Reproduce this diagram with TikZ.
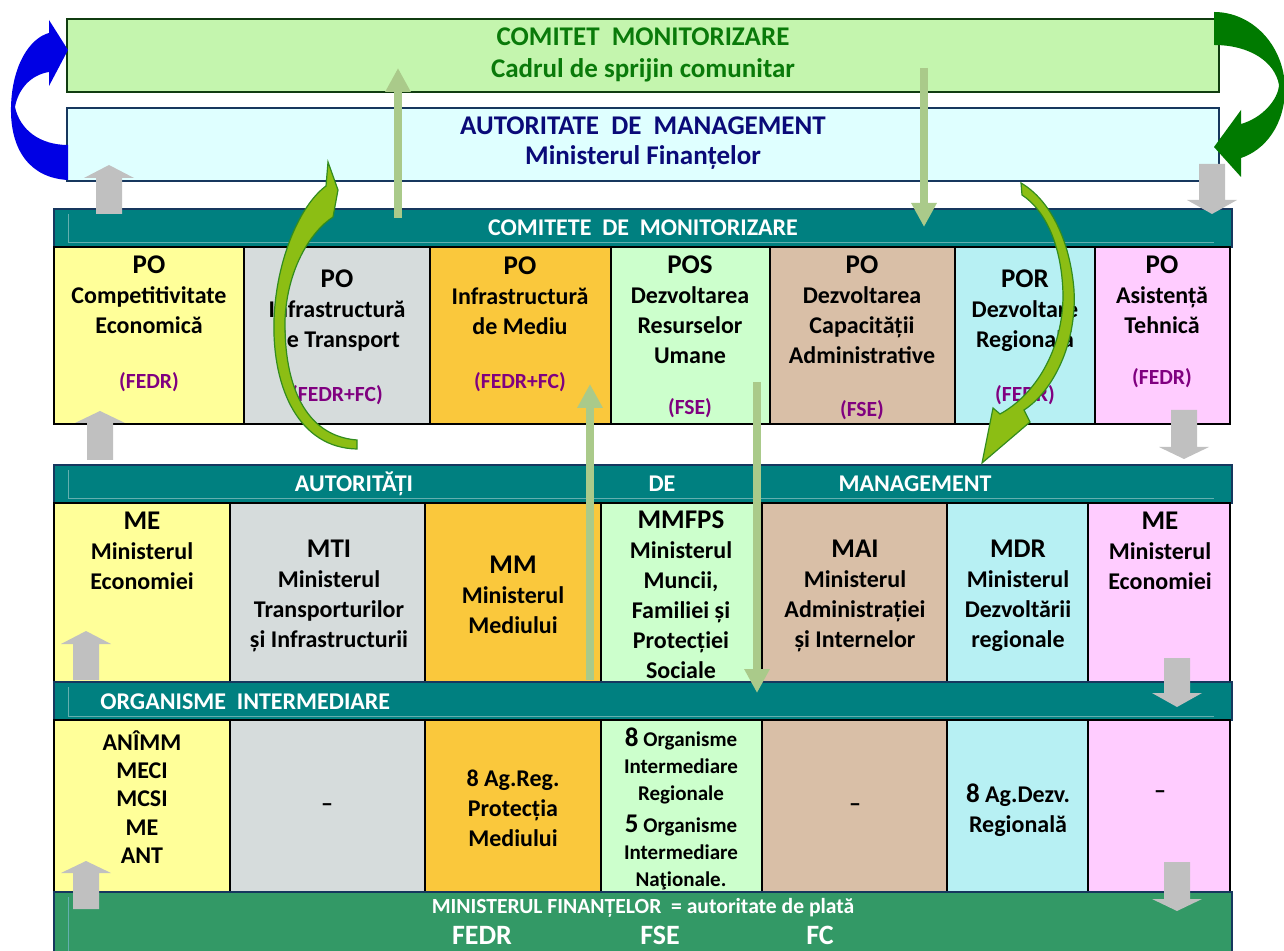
\documentclass[tikz,border=0pt]{standalone}
\usepackage{amsmath}
\usepackage{xcolor}
\usepackage{fontspec}
\setmainfont{Carlito}
\usepackage{tikz}
\usetikzlibrary{arrows.meta}

\definecolor{cmgreen}{RGB}{196,245,174}
\definecolor{cmline}{RGB}{16,60,16}
\definecolor{cmtext}{RGB}{10,122,10}
\definecolor{amcyan}{RGB}{223,255,255}
\definecolor{amline}{RGB}{22,55,94}
\definecolor{amtext}{RGB}{10,10,120}
\definecolor{barteal}{RGB}{0,128,128}
\definecolor{barlight}{RGB}{100,175,175}
\definecolor{payteal}{RGB}{51,153,102}
\definecolor{cyel}{RGB}{255,255,153}
\definecolor{cgray}{RGB}{214,220,220}
\definecolor{corange}{RGB}{250,200,60}
\definecolor{cgreen}{RGB}{204,255,204}
\definecolor{ctan}{RGB}{217,191,167}
\definecolor{ccyan}{RGB}{183,240,243}
\definecolor{cpink}{RGB}{255,204,255}
\definecolor{fpurple}{RGB}{128,0,128}
\definecolor{blkgray}{RGB}{192,192,192}
\definecolor{lnkgreen}{RGB}{170,202,138}
\definecolor{bendfill}{RGB}{140,190,20}
\definecolor{bendline}{RGB}{50,140,30}
\definecolor{loopblue}{RGB}{0,0,228}
\definecolor{loopgreen}{RGB}{0,122,0}

\newcommand{\celltitle}[1]{{\fontsize{13.5}{15}\selectfont #1}}
\newcommand{\bignum}[1]{{\fontsize{13.5}{13.5}\selectfont #1}}

\begin{document}
\begin{tikzpicture}[x=0.5pt,y=-0.5pt,
  cell/.style={draw=black,line width=1.2pt},
  bar/.style={fill=barteal,draw=amline,line width=1pt},
  barin/.style={draw=barlight,line width=0.5pt},
  txt/.style={font=\fontsize{12}{15}\selectfont\bfseries,align=center,inner sep=0pt},
  smalltxt/.style={font=\fontsize{10.5}{13.5}\selectfont\bfseries,align=center,inner sep=0pt},
  fund/.style={text=fpurple,font=\fontsize{10.8}{12}\selectfont\bfseries,inner sep=0pt},
  bartxt/.style={text=white,font=\fontsize{12}{14}\selectfont\bfseries,inner sep=0pt},
  headtxt/.style={font=\fontsize{13.5}{16}\selectfont\bfseries,inner sep=0pt},
  grayarr/.style={fill=blkgray},
  linkarr/.style={draw=lnkgreen,line width=4pt,-{Triangle[width=12pt,length=12pt]}},
  bendarr/.style={fill=bendfill,draw=bendline,line width=0.6pt}]

\useasboundingbox (0,0) rectangle (1284,951);

% top boxes
\draw[fill=cmgreen,draw=cmline,line width=1pt] (67,19) rectangle (1219,92);
\node[headtxt,text=cmtext] (cm1) at (643,37) {COMITET~~MONITORIZARE};
\node[headtxt,text=cmtext] (cm2) at (643,70) {Cadrul de sprijin comunitar};

\draw[fill=amcyan,draw=amline,line width=1pt] (67,108) rectangle (1219,181);
\node[headtxt,text=amtext] (am1) at (643,126) {AUTORITATE~~DE~~MANAGEMENT};
\node[headtxt,text=amtext] (am2) at (643,158) {Ministerul Finanțelor};

%%% comitete de monitorizare
\draw[bar] (54,209) rectangle (1232,247);
\draw[barin] (68,214) -- (68,243) -- (1214,243);
\node[bartxt] (cdm) at (643,228) {COMITETE~~DE~~MONITORIZARE};

\draw[cell,fill=cyel] (54,247) rectangle (244,424);
\draw[cell,fill=cgray] (244,247) rectangle (430,424);
\draw[cell,fill=corange] (430,247) rectangle (611,424);
\draw[cell,fill=cgreen] (611,247) rectangle (770,424);
\draw[cell,fill=ctan] (770,247) rectangle (955,424);
\draw[cell,fill=ccyan] (955,247) rectangle (1095,424);
\draw[cell,fill=cpink] (1095,247) rectangle (1230,424);

\node[txt] (po1) at (149,295) {\celltitle{PO}\\Competitivitate\\Economică};
\node[txt] (po2) at (337,311) {\celltitle{PO}\\Infrastructură\\de Transport};
\node[txt] (po3) at (520,296) {\celltitle{PO}\\Infrastructură\\de Mediu};
\node[txt] (po4) at (690,310) {\celltitle{POS}\\Dezvoltarea\\Resurselor\\Umane};
\node[txt] (po5) at (862,310) {\celltitle{PO}\\Dezvoltarea\\Capacității\\Administrative};
\node[txt] (po6) at (1025,311) {\celltitle{POR}\\Dezvoltare\\Regională};
\node[txt] (po7) at (1162,295) {\celltitle{PO}\\Asistență\\Tehnică};

\node[fund] (f1) at (149,382) {(FEDR)};
\node[fund] (f2) at (337,395) {(FEDR+FC)};
\node[fund] (f3) at (520,382) {(FEDR+FC)};
\node[fund] (f4) at (690,408) {(FSE)};
\node[fund] (f5) at (862,410) {(FSE)};
\node[fund] (f6) at (1025,395) {(FEDR)};
\node[fund] (f7) at (1162,378) {(FEDR)};

%%% autoritati de management
\draw[bar] (54,465) rectangle (1232,503);
\draw[barin] (68,470) -- (68,499) -- (1214,499);
\node[bartxt] (adm1) at (354,484) {AUTORITĂȚI};
\node[bartxt] (adm2) at (662,484) {DE};
\node[bartxt] (adm3) at (915,484) {MANAGEMENT};

\draw[cell,fill=cyel] (54,503) rectangle (230,682);
\draw[cell,fill=cgray] (230,503) rectangle (425,682);
\draw[cell,fill=corange] (425,503) rectangle (601,682);
\draw[cell,fill=cgreen] (601,503) rectangle (762,682);
\draw[cell,fill=ctan] (762,503) rectangle (947,682);
\draw[cell,fill=ccyan] (947,503) rectangle (1088,682);
\draw[cell,fill=cpink] (1088,503) rectangle (1230,682);

\node[txt] (me1) at (142,551) {\celltitle{ME}\\Ministerul\\Economiei};
\node[txt] (me2) at (329,596) {\celltitle{MTI}\\Ministerul\\Transporturilor\\și Infrastructurii};
\node[txt] (me3) at (513,595) {\celltitle{MM}\\Ministerul\\Mediului};
\node[txt] (me4) at (681,595) {\celltitle{MMFPS}\\Ministerul\\Muncii,\\Familiei și\\Protecției\\Sociale};
\node[txt] (me5) at (855,596) {\celltitle{MAI}\\Ministerul\\Administrației\\și Internelor};
\node[txt] (me6) at (1018,596) {\celltitle{MDR}\\Ministerul\\Dezvoltării\\regionale};
\node[txt] (me7) at (1160,551) {\celltitle{ME}\\Ministerul\\Economiei};

%%% organisme intermediare
\draw[bar] (54,682) rectangle (1232,720);
\draw[barin] (68,687) -- (68,716) -- (1214,716);
\node[bartxt,anchor=west] (oit) at (100,702) {ORGANISME~~INTERMEDIARE};

\draw[cell,fill=cyel] (54,720) rectangle (230,892);
\draw[cell,fill=cgray] (230,720) rectangle (425,892);
\draw[cell,fill=corange] (425,720) rectangle (601,892);
\draw[cell,fill=cgreen] (601,720) rectangle (762,892);
\draw[cell,fill=ctan] (762,720) rectangle (947,892);
\draw[cell,fill=ccyan] (947,720) rectangle (1088,892);
\draw[cell,fill=cpink] (1088,720) rectangle (1230,892);

\node[txt,font=\fontsize{12}{14.1}\selectfont\bfseries] (oi1) at (142,797) {ANÎMM\\MECI\\MCSI\\ME\\ANT};
\node[txt] (oi2) at (327,808) {–};
\node[txt] (oi3) at (513,808) {8 Ag.Reg.\\Protecția\\Mediului};
\node[smalltxt] (oi4) at (681,809) {\bignum{8} Organisme\\Intermediare\\Regionale\\[2.5pt]\bignum{5} Organisme\\Intermediare\\Naţionale.};
\node[txt] (oi5) at (855,808) {–};
\node[txt] (oi6) at (1018,810) {\bignum{8} Ag.Dezv.\\Regională};
\node[txt] (oi7) at (1160,795) {–};

%%% autoritate de plata
\draw[fill=payteal,draw=amline,line width=1pt] (54,892) rectangle (1232,960);
\draw[barin] (68,897) -- (68,960);
\node[bartxt,font=\fontsize{10.8}{12}\selectfont\bfseries] (mf) at (643,908) {MINISTERUL FINANȚELOR~~= autoritate de plată};
\node[bartxt,font=\fontsize{14}{16}\selectfont\bfseries] (p1) at (482,935) {FEDR};
\node[bartxt,font=\fontsize{14}{16}\selectfont\bfseries] (p2) at (660,935) {FSE};
\node[bartxt,font=\fontsize{14}{16}\selectfont\bfseries] (p3) at (820,935) {FC};

%%% gray block arrows
\foreach \x/\t/\h/\b in {109/165/178/214, 100/411/423/460, 86/631/644/680, 86/861/873/909}
  \fill[grayarr] (\x-13,\b) -- (\x-13,\h) -- (\x-25,\h) -- (\x,\t) -- (\x+25,\h) -- (\x+13,\h) -- (\x+13,\b) -- cycle;
\foreach \x/\t/\h/\b in {1212/164/200/214, 1184/410/447/459, 1177/658/693/707, 1177/862/899/911}
  \fill[grayarr] (\x-13,\t) -- (\x-13,\h) -- (\x-25,\h) -- (\x,\b) -- (\x+25,\h) -- (\x+13,\h) -- (\x+13,\t) -- cycle;

%%% light green arrows
\coordinate (up1s) at (398,218);
\coordinate (up1e) at (398,68);
\coordinate (dn1s) at (924,68);
\coordinate (dn1e) at (924,227);
\coordinate (up2s) at (590,680);
\coordinate (up2e) at (590,384);
\coordinate (dn2s) at (757,382);
\coordinate (dn2e) at (757,693);
\draw[linkarr] (up1s) -- (up1e);
\draw[linkarr] (dn1s) -- (dn1e);
\draw[linkarr] (up2s) -- (up2e);
\draw[linkarr] (dn2s) -- (dn2e);

%%% curved arrows
\path[bendarr] (357,449) .. controls (300,448) and (272,390) .. (274,320)
  .. controls (276,260) and (300,205) .. (326,186) -- (328,162) -- (338,190) -- (333,217)
  .. controls (310,232) and (287,270) .. (285,320)
  .. controls (284,385) and (305,436) .. (357,440) -- cycle;
\path[bendarr] (1021,183) .. controls (1050,200) and (1070,240) .. (1074,290)
  .. controls (1077,345) and (1052,392) .. (1024,410) -- (1030,422) -- (982,463) -- (993,408) -- (1000,414)
  .. controls (1035,395) and (1063,350) .. (1063,295)
  .. controls (1062,245) and (1045,210) .. (1022,195) -- cycle;

\fill[loopblue] (68,180) .. controls (30,178) and (10,150) .. (11,107)
  .. controls (12,65) and (30,38) .. (49,33) -- (49,20) -- (68,50) -- (49,86) -- (49,72)
  .. controls (30,75) and (18,90) .. (15,107)
  .. controls (20,130) and (40,145) .. (68,145) -- cycle;
\fill[loopgreen] (1214,12) .. controls (1252,12) and (1284,45) .. (1285,88)
  .. controls (1285,125) and (1265,150) .. (1241,158) -- (1241,177) -- (1214,147) -- (1241,110) -- (1241,124)
  .. controls (1262,118) and (1278,100) .. (1279,85)
  .. controls (1275,62) and (1250,45) .. (1214,45) -- cycle;
\end{tikzpicture}
\end{document}
